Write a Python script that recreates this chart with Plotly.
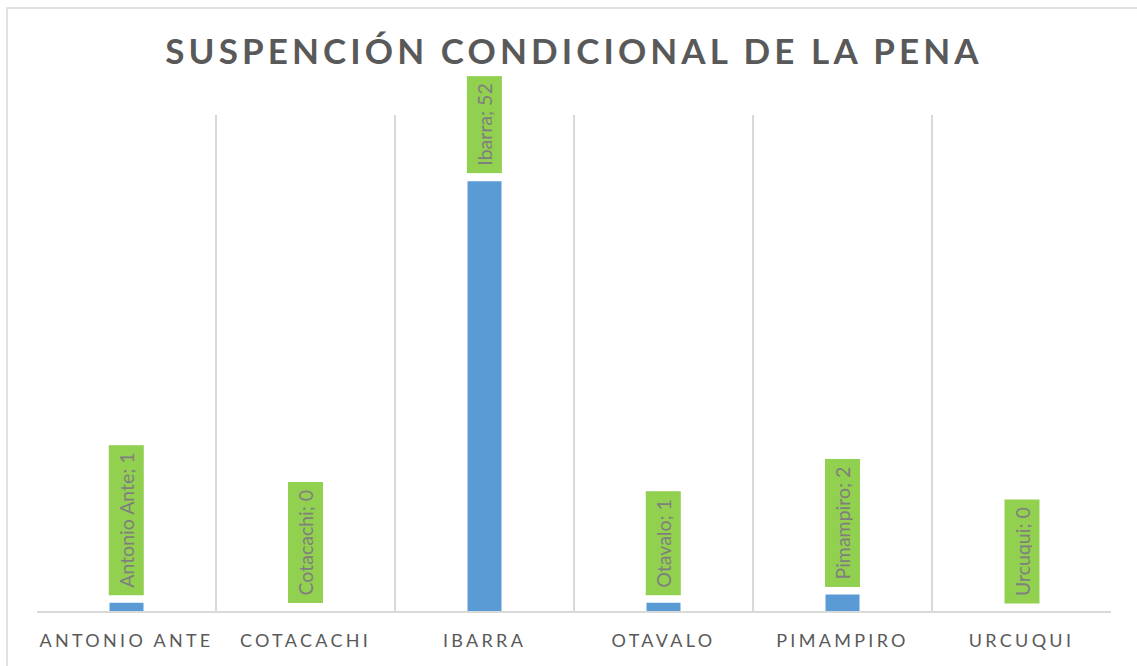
import plotly.graph_objects as go

categories = ["ANTONIO ANTE", "COTACACHI", "IBARRA", "OTAVALO", "PIMAMPIRO", "URCUQUI"]
label_names = ["Antonio Ante", "Cotacachi", "Ibarra", "Otavalo", "Pimampiro", "Urcuqui"]
values = [1, 0, 52, 1, 2, 0]
title_text = "SUSPENCIÓN CONDICIONAL DE LA PENA"

W, H = 1137, 666
L, R, T, B = 37, 26, 115, 55

fig = go.Figure()
fig.add_trace(go.Bar(
    x=categories, y=values, width=0.19,
    marker=dict(color="#5B9BD5", line=dict(width=0)),
    hoverinfo="skip",
))

for cat, name, v in zip(categories, label_names, values):
    fig.add_annotation(
        x=cat, y=v, xref="x", yref="y",
        text=f"{name}; {v}", showarrow=False,
        textangle=-90, xanchor="center", yanchor="bottom", yshift=7,
        bgcolor="#92D050", borderpad=7, height=20,
        font=dict(family="Lato", size=19.5, color="#7F7F7F"),
    )

pw, ph = W - L - R, H - T - B
fig.add_shape(
    type="rect", xref="paper", yref="paper",
    x0=(7 - L) / pw, x1=(W + 5 - L) / pw,
    y0=-(H + 5 - (H - B)) / ph, y1=((H - B) - 8) / ph,
    line=dict(color="#D9D9D9", width=1.5), fillcolor="rgba(0,0,0,0)", layer="below",
)

fig.update_layout(
    width=W, height=H,
    margin=dict(l=L, r=R, t=T, b=B),
    paper_bgcolor="white", plot_bgcolor="white",
    showlegend=False,
    title=dict(
        text=title_text, x=0.5, xref="paper", xanchor="center",
        y=1 - 52 / H, yref="container", yanchor="middle",
        font=dict(family="Lato", size=35, color="#595959", weight="bold"),
    ),
    xaxis=dict(
        type="category", range=[-0.5, 5.5], tickson="boundaries",
        showgrid=True, gridcolor="#D9D9D9", gridwidth=1.5,
        showline=True, linecolor="#D9D9D9", linewidth=2,
        ticks="", ticklen=0,
        tickfont=dict(family="Lato", size=18, color="#595959"),
        ticklabelstandoff=12,
    ),
    yaxis=dict(
        range=[0, 60], showgrid=False, zeroline=False,
        showticklabels=False, ticks="", showline=False,
    ),
)

post_js = """
document.body.style.margin='0';
document.body.style.overflow='hidden';
var gd = document.getElementById('{plot_id}');
function sp(){
  gd.querySelectorAll('text.gtitle').forEach(function(t){ t.style.letterSpacing='4.1px'; });
  gd.querySelectorAll('.xtick text').forEach(function(t){ t.style.letterSpacing='3.3px'; });
}
sp();
if (gd.on) { gd.on('plotly_afterplot', sp); }
"""

fig.write_html("out.html", post_script=post_js, config={"displayModeBar": False})
